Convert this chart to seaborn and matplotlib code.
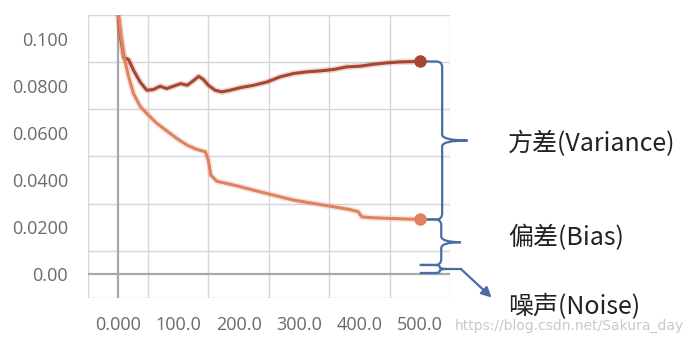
import matplotlib
matplotlib.use("Agg")
import matplotlib.pyplot as plt
from matplotlib.path import Path
from matplotlib.patches import PathPatch
import seaborn as sns
import pandas as pd

# ---- data ----
var_x = [0, 5, 10, 18, 26, 37, 48, 59, 70, 81, 92, 104, 115, 126, 134, 142, 150,
         161, 172, 186, 203, 225, 247, 269, 291, 313, 335, 357, 379, 401, 423,
         445, 467, 500]
var_y = [0.112, 0.100, 0.092, 0.0911, 0.0866, 0.0816, 0.0781, 0.0784, 0.0798,
         0.0788, 0.0798, 0.0809, 0.0802, 0.0823, 0.0840, 0.0826, 0.0802, 0.0781,
         0.0774, 0.0781, 0.0792, 0.0802, 0.0816, 0.0838, 0.0852, 0.0859, 0.0863,
         0.0869, 0.0880, 0.0883, 0.0891, 0.0897, 0.0901, 0.0903]

bias_x = [0, 5.5, 11, 18, 26, 37, 48, 65, 81, 98, 115, 131, 145, 150, 154, 164,
          192, 225, 258, 291, 324, 357, 384, 398, 404, 423, 456, 500]
bias_y = [0.112, 0.1007, 0.0915, 0.0838, 0.0767, 0.0713, 0.0682, 0.0640, 0.0609,
          0.0576, 0.0548, 0.0530, 0.0520, 0.0484, 0.0421, 0.0395, 0.0379, 0.0357,
          0.0336, 0.0315, 0.0301, 0.0287, 0.0275, 0.0266, 0.0244, 0.0240, 0.0237,
          0.0233]

noise_top = 0.004
noise_bottom = 0.0006

x_ticks = [0, 100, 200, 300, 400, 500]
x_tick_labels = ["0.000", "100.0", "200.0", "300.0", "400.0", "500.0"]
y_ticks = [0.0, 0.02, 0.04, 0.06, 0.08, 0.10]
y_tick_labels = ["0.00", "0.0200", "0.0400", "0.0600", "0.0800", "0.100"]

labels = ["方差(Variance)", "偏差(Bias)", "噪声(Noise)"]
watermark = "https://blog.csdn.net/Sakura_day"

# ---- styling ----
sns.set_style("white")
plt.rcParams['font.family'] = ['Noto Sans CJK SC', 'DejaVu Sans']

VAR_C = "#a94632"
BIAS_C = "#e0825f"
BRACE_C = "#4a6ca6"
GRID_C = "#d6d6d6"

fig = plt.figure(figsize=(6.95, 3.42), dpi=100)
ax = fig.add_axes([0.126, 0.1287, 0.5215, 0.8274])

dv = pd.DataFrame({"x": var_x, "y": var_y})
db = pd.DataFrame({"x": bias_x, "y": bias_y})

# faint halo (raw curve look)
sns.lineplot(data=dv, x="x", y="y", ax=ax, color=VAR_C, lw=4.5, alpha=0.2)
sns.lineplot(data=db, x="x", y="y", ax=ax, color=BIAS_C, lw=4.5, alpha=0.2)
sns.lineplot(data=dv, x="x", y="y", ax=ax, color=VAR_C, lw=2.2)
sns.lineplot(data=db, x="x", y="y", ax=ax, color=BIAS_C, lw=2.2)

ax.plot([var_x[-1]], [var_y[-1]], 'o', color=VAR_C, ms=8, zorder=5, clip_on=False)
ax.plot([bias_x[-1]], [bias_y[-1]], 'o', color=BIAS_C, ms=8, zorder=5, clip_on=False)

ax.set_xlim(-50, 550)
ax.set_ylim(-0.01, 0.11)
ax.set_xlabel("")
ax.set_ylabel("")

ax.set_xticks(x_ticks)
ax.set_xticklabels(x_tick_labels)
ax.set_yticks(y_ticks)
ax.set_yticklabels(y_tick_labels)
ax.set_xticks([v for v in range(-50, 551, 50)], minor=True)
ax.set_yticks([k * 0.01 for k in range(-1, 12)], minor=True)
ax.grid(which="minor", color=GRID_C, lw=1)
ax.grid(which="major", visible=False)
for s in ax.spines.values():
    s.set_visible(False)
ax.tick_params(which="major", length=0, labelsize=13, labelcolor="#6a6a6a",
               labelfontfamily="Open Sans")
ax.tick_params(axis="y", which="major", pad=14)
ax.tick_params(axis="x", which="major", pad=13)
ax.tick_params(which="minor", length=6, color=GRID_C, width=1)
ax.axhline(0, color="#a8a8a8", lw=1.6, zorder=1)
ax.axvline(0, color="#a8a8a8", lw=1.6, zorder=1)


def brace(x0, xv, xt, ytop, ybot, rx, ry):
    ym = (ytop + ybot) / 2
    verts = [(x0, ytop), (xv - rx, ytop), (xv, ytop), (xv, ytop - ry),
             (xv, ym + ry), (xv, ym), (xt, ym), (xv, ym), (xv, ym - ry),
             (xv, ybot + ry), (xv, ybot), (xv - rx, ybot), (x0, ybot)]
    codes = [Path.MOVETO, Path.LINETO, Path.CURVE3, Path.CURVE3, Path.LINETO,
             Path.CURVE3, Path.CURVE3, Path.CURVE3, Path.CURVE3, Path.LINETO,
             Path.CURVE3, Path.CURVE3, Path.LINETO]
    p = PathPatch(Path(verts, codes), fill=False, ec=BRACE_C, lw=1.6,
                  clip_on=False, zorder=4)
    ax.add_patch(p)
    return ym


xend = var_x[-1]
ym1 = brace(xend, 537, 579, var_y[-1], bias_y[-1], 10, 0.0025)
ym2 = brace(xend, 535.5, 568, bias_y[-1], noise_top, 10, 0.0025)
ym3 = brace(xend, 533, 545, noise_top, noise_bottom, 8, 0.0008)
ax.plot([545, 569], [ym3, ym3], color=BRACE_C, lw=1.6, clip_on=False)
ax.annotate("", xy=(619, -0.0098), xytext=(568, ym3),
            arrowprops=dict(arrowstyle="-|>,head_length=0.6,head_width=0.3",
                            color=BRACE_C, lw=1.6, shrinkA=0, shrinkB=0),
            annotation_clip=False)

ax.text(646, 0.0555, labels[0], fontsize=18, color="#222222", va="center",
        ha="left", clip_on=False)
ax.text(646, 0.0155, labels[1], fontsize=18, color="#222222", va="center",
        ha="left", clip_on=False)
ax.text(646, -0.0140, labels[2], fontsize=18, color="#222222", va="center",
        ha="left", clip_on=False)

fig.text(0.655, 0.048, watermark, fontsize=10, color="#c9c9c9",
         ha="left", va="center", family=["DejaVu Sans"])

fig.savefig("out.png", dpi=100)
